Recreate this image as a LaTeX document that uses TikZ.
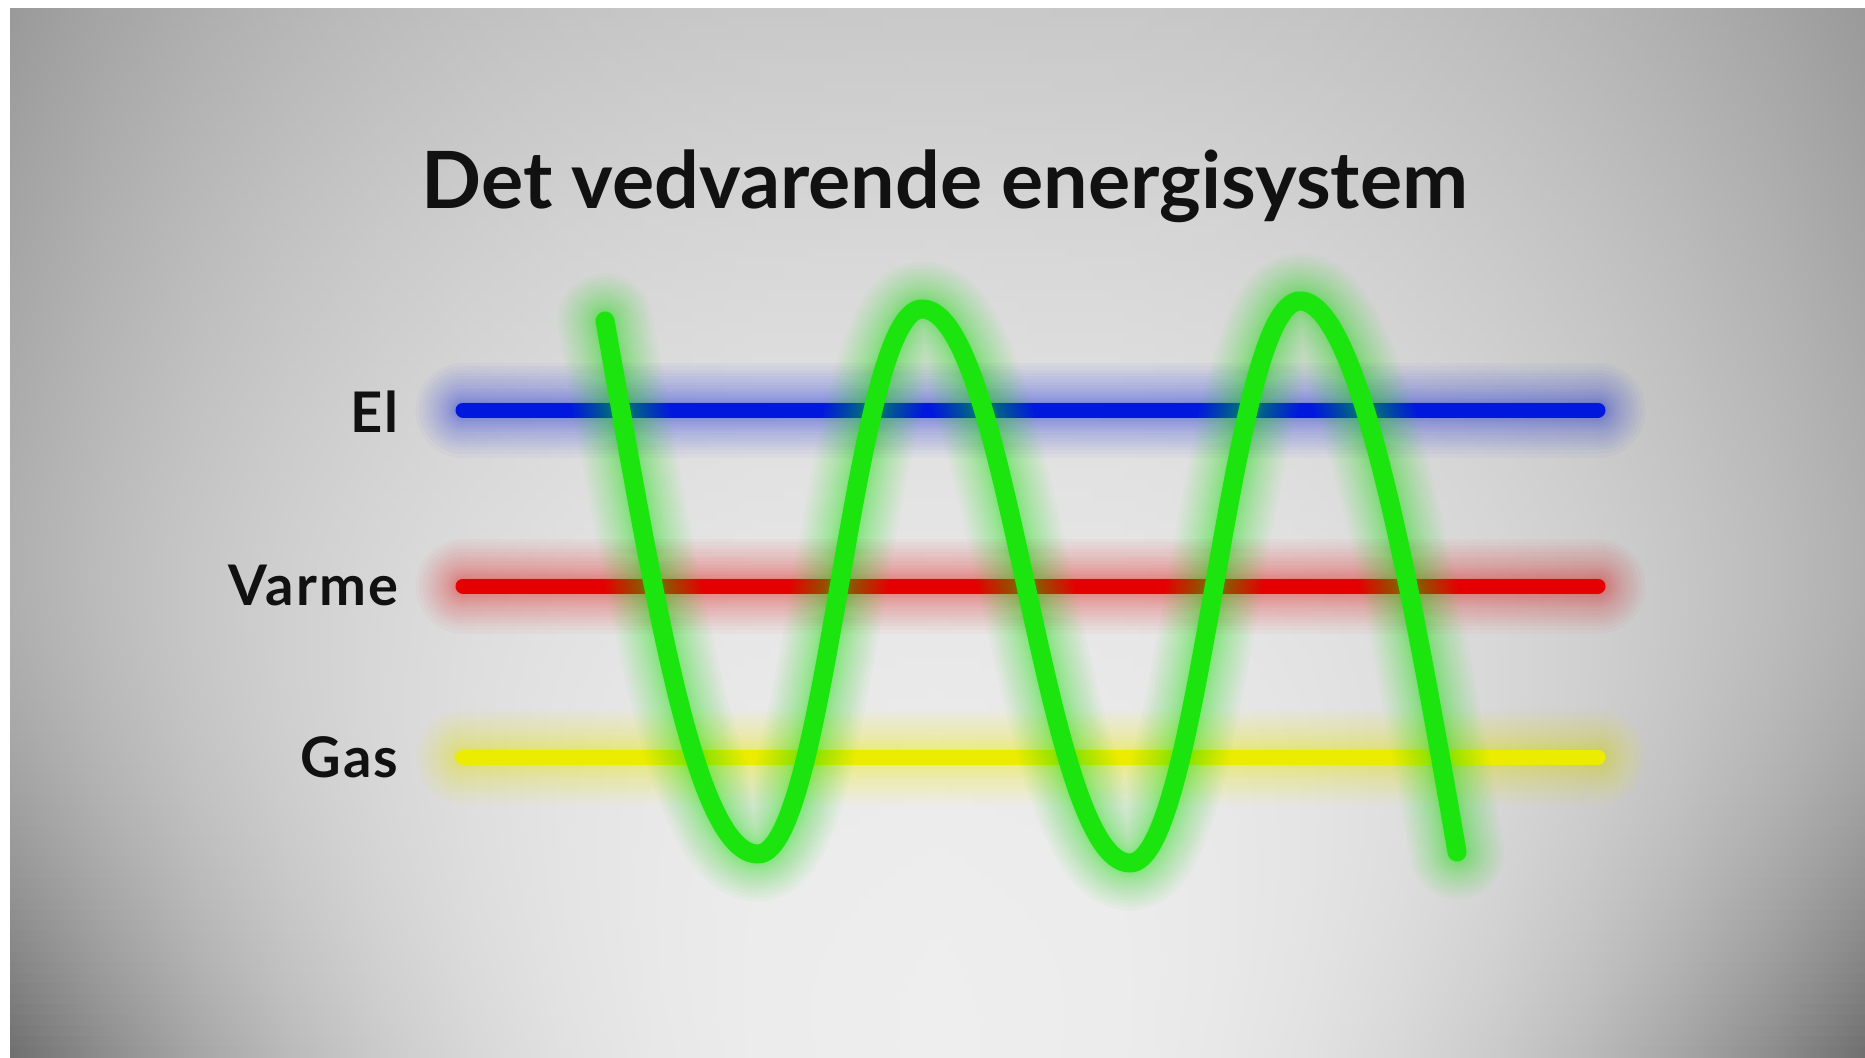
\documentclass[tikz,border=0pt]{standalone}
\usepackage{fontspec}
\setmainfont{Lato}
\definecolor{elblue}{RGB}{0,24,222}
\definecolor{heatred}{RGB}{228,0,0}
\definecolor{gasyellow}{RGB}{236,236,0}
\definecolor{wavegreen}{RGB}{28,228,14}
\definecolor{ink}{RGB}{17,17,17}
\begin{document}
\begin{tikzpicture}[x=1pt,y=-1pt,
  bar/.style={line cap=round, line width=15},
  wavestroke/.style={line cap=round, line join=round, line width=19},
  label/.style={anchor=base east, text=ink, font=\fontsize{56}{60}\selectfont\bfseries\addfontfeatures{LetterSpace=4}},
  titletext/.style={anchor=base, text=ink, font=\fontsize{79}{90}\selectfont\bfseries}]
% canvas
\fill[white] (0,0) rectangle (1865,1057);
\useasboundingbox (0,0) rectangle (1865,1057);
% background: vignette built from horizontal strips
\foreach \j in {0,...,99} {
  \pgfmathsetmacro\yA{9+\j*10.48}
  \pgfmathsetmacro\yB{\yA+11.1}
  \pgfmathsetmacro\yc{\yA+5.24}
  \pgfmathsetmacro\Cy{(238-38*(1-\yc/1057)^2)/255}
  \pgfmathsetmacro\ay{0.235+(\yc>500)*0.3*((\yc-500)/557)^2}
  \pgfmathsetmacro\vK{\Cy*(1-\ay*1.0)}
  \pgfmathsetmacro\vJ{\Cy*(1-\ay*0.768)}
  \pgfmathsetmacro\vI{\Cy*(1-\ay*0.572)}
  \pgfmathsetmacro\vH{\Cy*(1-\ay*0.410)}
  \pgfmathsetmacro\vG{\Cy*(1-\ay*0.279)}
  \pgfmathsetmacro\vF{\Cy*(1-\ay*0.177)}
  \pgfmathsetmacro\vE{\Cy*(1-\ay*0.101)}
  \pgfmathsetmacro\vD{\Cy*(1-\ay*0.049)}
  \pgfmathsetmacro\vC{\Cy*(1-\ay*0.018)}
  \pgfmathsetmacro\vA{\Cy}
  \edef\bgdecl{\noexpand\pgfdeclarehorizontalshading{bgs\j}{100bp}{%
    rgb(0bp)=(\vK,\vK,\vK); rgb(25bp)=(\vK,\vK,\vK);
    rgb(27.5bp)=(\vJ,\vJ,\vJ); rgb(30bp)=(\vI,\vI,\vI);
    rgb(32.5bp)=(\vH,\vH,\vH); rgb(35bp)=(\vG,\vG,\vG);
    rgb(37.5bp)=(\vF,\vF,\vF); rgb(40bp)=(\vE,\vE,\vE);
    rgb(42.5bp)=(\vD,\vD,\vD); rgb(45bp)=(\vC,\vC,\vC);
    rgb(50bp)=(\vA,\vA,\vA);
    rgb(55bp)=(\vC,\vC,\vC); rgb(57.5bp)=(\vD,\vD,\vD);
    rgb(60bp)=(\vE,\vE,\vE); rgb(62.5bp)=(\vF,\vF,\vF);
    rgb(65bp)=(\vG,\vG,\vG); rgb(67.5bp)=(\vH,\vH,\vH);
    rgb(70bp)=(\vI,\vI,\vI); rgb(72.5bp)=(\vJ,\vJ,\vJ);
    rgb(75bp)=(\vK,\vK,\vK); rgb(100bp)=(\vK,\vK,\vK)}}%
  \bgdecl
  \shade[shading=bgs\j] (10,\yA) rectangle (1865,\yB);
}
% title
\node[titletext] (title) at (945,208) {Det vedvarende energisystem};
% labels
\node[label] (elLabel) at (402,432) {El};
\node[label] (varmeLabel) at (402,605) {Varme};
\node[label] (gasLabel) at (402,777) {Gas};
% bar end points
\coordinate (elA) at (463,410);   \coordinate (elB) at (1598,410);
\coordinate (vaA) at (463,586);   \coordinate (vaB) at (1598,586);
\coordinate (gaA) at (463,757);   \coordinate (gaB) at (1598,757);
% bar glows (soft, denser near the bar)
\foreach \k in {1,...,18} {
  \pgfmathsetmacro\gw{15+80*(\k/18)^1.7}
  \draw[elblue, opacity=0.028, line cap=round, line width=\gw] (elA) -- (elB);
  \draw[heatred, opacity=0.028, line cap=round, line width=\gw] (vaA) -- (vaB);
  \draw[gasyellow, opacity=0.032, line cap=round, line width=\gw] (gaA) -- (gaB);
}
% bars
\draw[bar, elblue] (elA) -- (elB);
\draw[bar, heatred] (vaA) -- (vaB);
\draw[bar, gasyellow] (gaA) -- (gaB);
% wave
\coordinate (s0) at (605,321);
\coordinate (m1) at (758,854);
\coordinate (M1) at (922,309);
\coordinate (m2) at (1130,863);
\coordinate (M2) at (1300,301);
\coordinate (e0) at (1457,852);
\def\wavepath{(s0) .. controls (655,600) and (695,854) .. (m1)
  .. controls (827,854) and (853,309) .. (M1)
  .. controls (1009,309) and (1043,863) .. (m2)
  .. controls (1201,863) and (1229,301) .. (M2)
  .. controls (1360,301) and (1412,592) .. (e0)}
\foreach \k in {1,...,18} {
  \pgfmathsetmacro\gw{19+76*(\k/18)^1.7}
  \draw[wavegreen, opacity=0.036, line cap=round, line join=round, line width=\gw] \wavepath;
}
\draw[wavestroke, wavegreen] \wavepath;
\end{tikzpicture}
\end{document}
